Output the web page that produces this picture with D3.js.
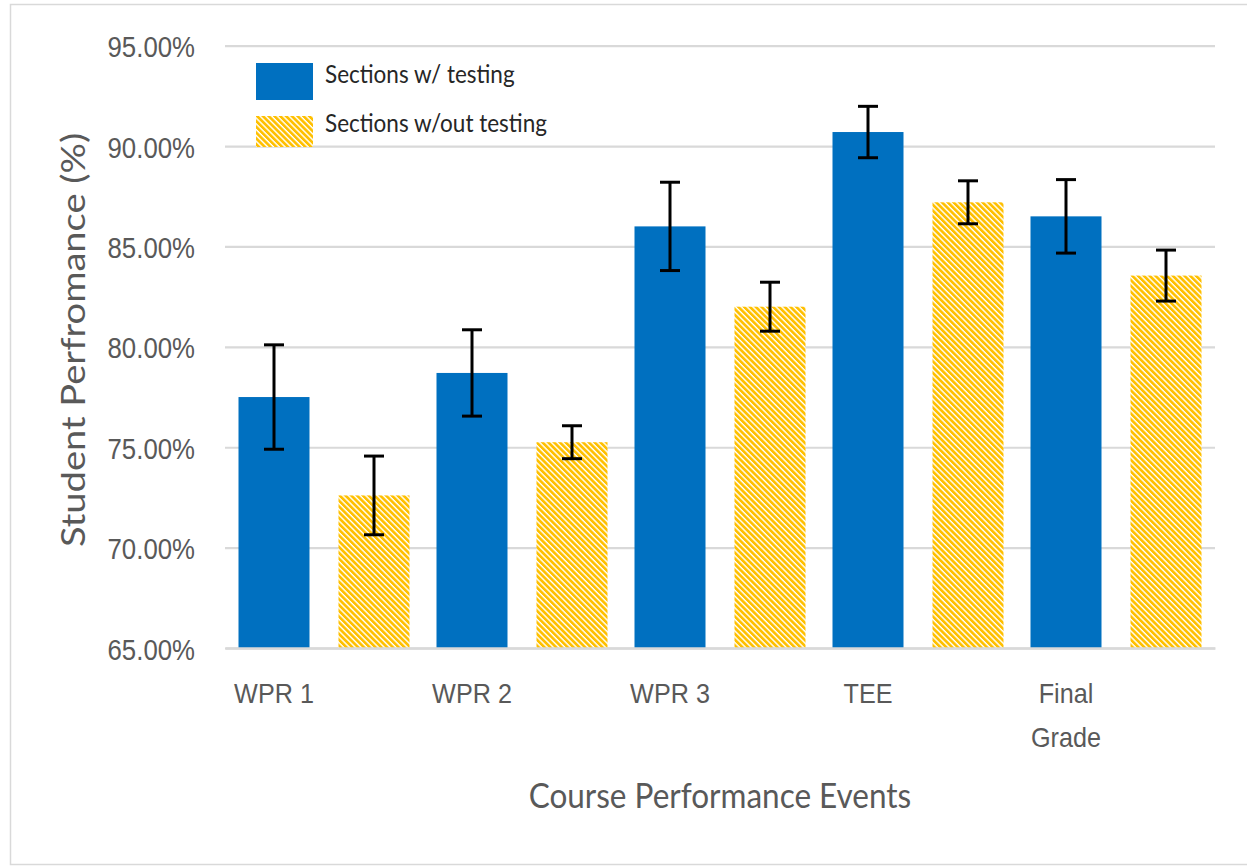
<!DOCTYPE html>
<html><head><meta charset="utf-8">
<script src="https://cdn.jsdelivr.net/npm/d3@7"></script>
<style>html,body{margin:0;padding:0;background:#fff;} svg{display:block;font-family:Lato,"Open Sans",sans-serif;}</style>
</head><body>
<svg id="chart" width="1247" height="867"></svg>
<script>
const categories = ["WPR 1", "WPR 2", "WPR 3", "TEE", "Final Grade"];
const categoryLines = [["WPR 1"], ["WPR 2"], ["WPR 3"], ["TEE"], ["Final", "Grade"]];
const seriesNames = ["Sections w/ testing", "Sections w/out testing"];
const withTesting = [77.5, 78.7, 86.0, 90.7, 86.5];
const withTestingErr = [2.6, 2.15, 2.2, 1.28, 1.83];
const withoutTesting = [72.6, 75.25, 82.0, 87.2, 83.55];
const withoutTestingErr = [1.96, 0.82, 1.22, 1.07, 1.27];
const yTicks = [65, 70, 75, 80, 85, 90, 95];
const yTitle = "Student Perfromance (%)";
const xTitle = "Course Performance Events";

const BLUE = "#0070C0", GOLD = "#FFC000", TXT = "#595959", GRID = "#D9D9D9";

const svg = d3.select("#chart");
const defs = svg.append("defs");
const pat = defs.append("pattern").attr("id", "hatch").attr("patternUnits", "userSpaceOnUse")
  .attr("width", 4.1).attr("height", 4.1).attr("patternTransform", "rotate(-45)");
pat.append("rect").attr("width", 4.1).attr("height", 4.1).attr("fill", "#fff");
pat.append("rect").attr("width", 2.7).attr("height", 4.1).attr("fill", GOLD);

// outer frame
svg.append("rect").attr("x", 10.5).attr("y", 4.5).attr("width", 1245).attr("height", 860)
  .attr("fill", "none").attr("stroke", "#D9D9D9").attr("stroke-width", 1.5);

const plot = {left: 225, right: 1215, top: 45.7, bottom: 648};
const y = d3.scaleLinear().domain([65, 95]).range([plot.bottom, plot.top]);
const x0 = d3.scaleBand().domain(categories).range([plot.left, plot.right]).padding(0);
const x1 = d3.scaleBand().domain(seriesNames).range([0, x0.bandwidth()]).paddingInner(0.29).paddingOuter(0.135);

// gridlines via axis
const yAxis = d3.axisLeft(y).tickValues(yTicks).tickSize(-(plot.right - plot.left)).tickFormat(d => d.toFixed(2) + "%");
const gy = svg.append("g").attr("transform", `translate(${plot.left},0)`).call(yAxis);
gy.select(".domain").remove();
gy.selectAll(".tick line").attr("stroke", GRID).attr("stroke-width", 2.2);
gy.selectAll(".tick text").remove();
gy.selectAll(".tick").append("text")
  .attr("transform", `translate(-30,11) scale(0.86,1)`)
  .attr("text-anchor", "end").attr("fill", TXT).attr("font-size", 30).text(d => d.toFixed(2) + "%");

// bars
const data = categories.map((c, i) => ({cat: c, vals: [
  {s: seriesNames[0], v: withTesting[i], e: withTestingErr[i]},
  {s: seriesNames[1], v: withoutTesting[i], e: withoutTestingErr[i]}
]}));
const groups = svg.append("g").selectAll("g").data(data).join("g")
  .attr("transform", d => `translate(${x0(d.cat)},0)`);
groups.selectAll("rect").data(d => d.vals).join("rect")
  .attr("x", d => x1(d.s)).attr("width", x1.bandwidth())
  .attr("y", d => y(d.v)).attr("height", d => y(65) - y(d.v))
  .attr("fill", (d, i) => i === 0 ? BLUE : "url(#hatch)");

// error bars
const eb = groups.selectAll("g.err").data(d => d.vals).join("g").attr("class", "err")
  .attr("transform", d => `translate(${x1(d.s) + x1.bandwidth() / 2},0)`);
eb.append("line").attr("y1", d => y(d.v + d.e)).attr("y2", d => y(d.v - d.e)).attr("stroke", "#000").attr("stroke-width", 3);
eb.append("line").attr("x1", -10).attr("x2", 10).attr("y1", d => y(d.v + d.e)).attr("y2", d => y(d.v + d.e)).attr("stroke", "#000").attr("stroke-width", 3);
eb.append("line").attr("x1", -10).attr("x2", 10).attr("y1", d => y(d.v - d.e)).attr("y2", d => y(d.v - d.e)).attr("stroke", "#000").attr("stroke-width", 3);

// x axis line
const xAxis = d3.axisBottom(x0).tickSize(0).tickFormat("");
const gx = svg.append("g").attr("transform", `translate(0,${plot.bottom})`).call(xAxis);
gx.select(".domain").attr("stroke", GRID).attr("stroke-width", 2.4);
gx.selectAll(".tick").attr("transform", d => `translate(${x0(d) + x1(seriesNames[0]) + x1.bandwidth() / 2},0)`);
gx.selectAll(".tick").each(function(d, i) {
  const t = d3.select(this).append("text").attr("text-anchor", "middle").attr("fill", TXT).attr("font-size", 28)
    .attr("transform", `translate(0,55) scale(0.9,1)`);
  categoryLines[i].forEach((ln, j) => t.append("tspan").attr("x", 0).attr("y", j * 44).text(ln));
});

// axis titles
svg.append("text").attr("transform", `translate(${(plot.left + plot.right) / 2},808) scale(0.9,1)`)
  .attr("text-anchor", "middle").attr("fill", TXT).attr("font-size", 35).text(xTitle);
svg.append("text").attr("transform", `translate(85,340) rotate(-90) scale(1.19,1)`)
  .attr("text-anchor", "middle").attr("fill", TXT).attr("font-size", 32).text(yTitle);

// legend
const lg = svg.append("g");
const items = [{name: seriesNames[0], fill: BLUE, y: 63, h: 37, ty: 83}, {name: seriesNames[1], fill: "url(#hatch)", y: 116, h: 31, ty: 132}];
items.forEach(it => {
  lg.append("rect").attr("x", 256).attr("y", it.y).attr("width", 57).attr("height", it.h).attr("fill", it.fill);
  lg.append("text").attr("transform", `translate(325,${it.ty}) scale(0.9,1)`).attr("fill", "#262626").attr("font-size", 25).text(it.name);
});
</script>
</body></html>
